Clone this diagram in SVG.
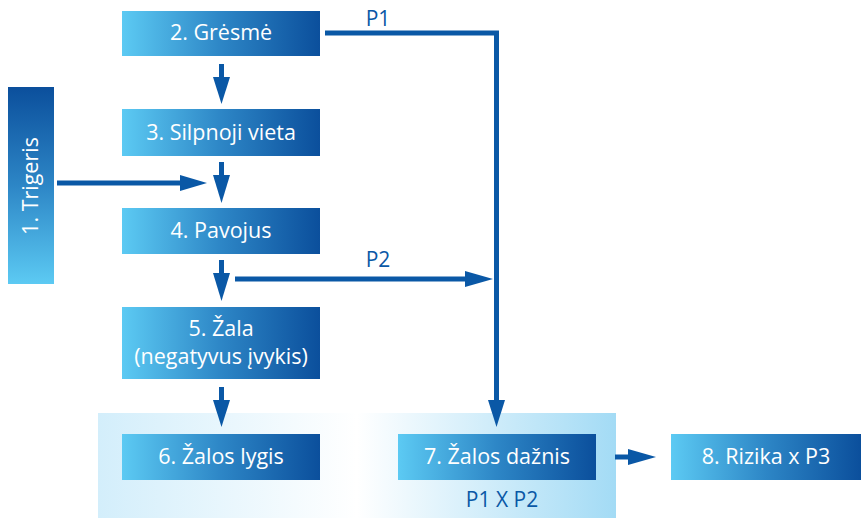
<svg xmlns="http://www.w3.org/2000/svg" width="861" height="518" viewBox="0 0 861 518">
  <defs>
    <linearGradient id="boxGrad" x1="0" y1="0" x2="1" y2="0">
      <stop offset="0" stop-color="#5ccaf3"/>
      <stop offset="0.5" stop-color="#2d86c6"/>
      <stop offset="1" stop-color="#0b4f9c"/>
    </linearGradient>
    <linearGradient id="vertGrad" x1="0" y1="1" x2="0" y2="0">
      <stop offset="0" stop-color="#5ccaf3"/>
      <stop offset="0.5" stop-color="#2d86c6"/>
      <stop offset="1" stop-color="#0b4f9c"/>
    </linearGradient>
    <linearGradient id="panelGrad" x1="0" y1="0" x2="1" y2="0">
      <stop offset="0" stop-color="#d3eefb"/>
      <stop offset="0.5" stop-color="#ffffff"/>
      <stop offset="1" stop-color="#a3dbf5"/>
    </linearGradient>
  </defs>
  <style>
    .box { fill: url(#boxGrad); }
    .lbl { font-family: "Open Sans", "Liberation Sans", sans-serif; font-size: 21.5px; fill: #ffffff; text-anchor: middle; }
    .plbl { font-family: "Open Sans", "Liberation Sans", sans-serif; font-size: 21px; fill: #0a58a6; text-anchor: middle; }
    .line { stroke: #0a58a6; stroke-width: 5; fill: none; }
    .head { fill: #0a58a6; }
  </style>

  <!-- soft background panel behind the lower row -->
  <rect x="98" y="413" width="518" height="105" fill="url(#panelGrad)"/>

  <g id="node1">
    <rect x="8" y="87" width="46" height="197" fill="url(#vertGrad)"/>
    <text class="lbl" transform="translate(38,186) rotate(-90)">1. Trigeris</text>
  </g>
  <g id="node2">
    <rect class="box" x="122" y="11" width="198" height="45"/>
    <text class="lbl" x="221" y="40">2. Grėsmė</text>
  </g>
  <g id="node3">
    <rect class="box" x="122" y="109" width="198" height="47"/>
    <text class="lbl" x="221" y="140">3. Silpnoji vieta</text>
  </g>
  <g id="node4">
    <rect class="box" x="122" y="208" width="198" height="46"/>
    <text class="lbl" x="221" y="238">4. Pavojus</text>
  </g>
  <g id="node5">
    <rect class="box" x="122" y="307" width="198" height="72"/>
    <text class="lbl" x="221" y="336">5. Žala</text>
    <text class="lbl" x="221" y="364">(negatyvus įvykis)</text>
  </g>
  <g id="node6">
    <rect class="box" x="122" y="434" width="198" height="46"/>
    <text class="lbl" x="221" y="464">6. Žalos lygis</text>
  </g>
  <g id="node7">
    <rect class="box" x="398" y="434" width="198" height="46"/>
    <text class="lbl" x="497" y="464">7. Žalos dažnis</text>
    <text class="plbl" x="502" y="507">P1 X P2</text>
  </g>
  <g id="node8">
    <rect class="box" x="671" y="434" width="190" height="46"/>
    <text class="lbl" x="766" y="464">8. Rizika x P3</text>
  </g>

  <g id="connectors">
    <!-- 2 -> 3 -->
    <line class="line" x1="221.5" y1="64" x2="221.5" y2="80"/>
    <path class="head" d="M213,77 L230,77 L221.5,104 Z"/>
    <!-- 3 -> 4 -->
    <line class="line" x1="221.5" y1="162" x2="221.5" y2="178"/>
    <path class="head" d="M213,175 L230,175 L221.5,203 Z"/>
    <!-- trigger -->
    <line class="line" x1="57" y1="183" x2="183" y2="183"/>
    <path class="head" d="M180,175 L207,183 L180,191 Z"/>
    <!-- 4 -> 5 -->
    <line class="line" x1="221.5" y1="260" x2="221.5" y2="276"/>
    <path class="head" d="M213,273 L230,273 L221.5,301 Z"/>
    <!-- P2 -->
    <line class="line" x1="235" y1="279" x2="468" y2="279"/>
    <path class="head" d="M465,271 L493,279 L465,287 Z"/>
    <text class="plbl" x="378" y="267">P2</text>
    <!-- 5 -> 6 -->
    <line class="line" x1="221.5" y1="387" x2="221.5" y2="403"/>
    <path class="head" d="M213,400 L230,400 L221.5,427 Z"/>
    <!-- P1 -->
    <polyline class="line" points="325,33 496.5,33 496.5,403"/>
    <path class="head" d="M488,400 L505,400 L496.5,427 Z"/>
    <text class="plbl" x="378" y="26">P1</text>
    <!-- 7 -> 8 -->
    <line class="line" x1="615" y1="457" x2="631" y2="457"/>
    <path class="head" d="M628,449 L656,457 L628,465 Z"/>
  </g>
</svg>
